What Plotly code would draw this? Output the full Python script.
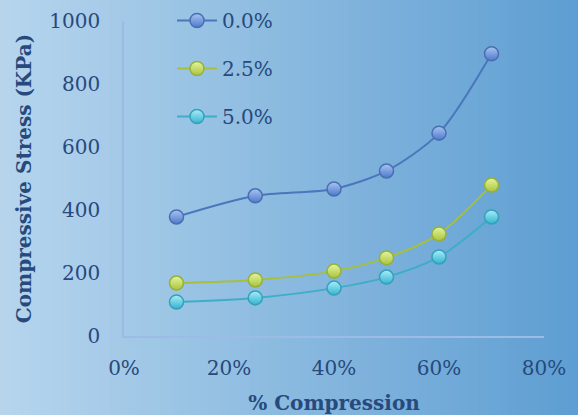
import plotly.graph_objects as go

# Compression levels (fraction) and compressive stress (KPa) per additive content
compression = [0.10, 0.25, 0.40, 0.50, 0.60, 0.70]
stress_0_0 = [378, 445, 467, 524, 644, 896]
stress_2_5 = [168, 178, 206, 248, 324, 479]
stress_5_0 = [108, 121, 152, 187, 251, 378]

series_names = ["0.0%", "2.5%", "5.0%"]
series_values = [stress_0_0, stress_2_5, stress_5_0]
line_colors = ["#4a76bb", "#a6bf3c", "#3eaec8"]
marker_top = ["#a9c4f2", "#e4f5a0", "#a8eef8"]
marker_bottom = ["#4d7acb", "#a9c43a", "#35b2cf"]
marker_edges = ["#4a6fb0", "#98b038", "#35a0bb"]

x_ticks = [0, 0.2, 0.4, 0.6, 0.8]
x_tick_text = ["0%", "20%", "40%", "60%", "80%"]
y_ticks = [0, 200, 400, 600, 800, 1000]

W, H = 578, 415
L, R, T, B = 124, 34, 21, 79
pw, ph = W - L - R, H - T - B

text_color = "#27497c"
font_family = "DejaVu Serif"

fig = go.Figure()
for name, vals, lc, mt, mb, me in zip(series_names, series_values, line_colors,
                                      marker_top, marker_bottom, marker_edges):
    fig.add_trace(go.Scatter(
        x=compression, y=vals, name=name, legendgroup=name,
        mode="lines+markers",
        line=dict(color=lc, width=2, shape="spline", smoothing=0.8),
        marker=dict(size=14, color=mt,
                    gradient=dict(type="vertical", color=mb),
                    line=dict(color=me, width=1.5)),
    ))

# Horizontal background gradient built from thin strips across the whole canvas
left_rgb = (0xb6, 0xd5, 0xed)
right_rgb = (0x5e, 0x9e, 0xd2)
n_strips = 58
shapes = []
for i in range(n_strips):
    t = i / (n_strips - 1)
    c = tuple(round(a + (b - a) * t) for a, b in zip(left_rgb, right_rgb))
    px0 = i * W / n_strips
    px1 = (i + 1) * W / n_strips + 1
    shapes.append(dict(
        type="rect", xref="paper", yref="paper", layer="below",
        x0=(px0 - L) / pw, x1=(px1 - L) / pw,
        y0=-(B + 2) / ph, y1=(H - B + 2) / ph,
        fillcolor="rgb(%d,%d,%d)" % c, line=dict(width=0),
    ))

fig.update_layout(
    width=W, height=H,
    margin=dict(l=L, r=R, t=T, b=B, autoexpand=False),
    paper_bgcolor="#8dbde3",
    plot_bgcolor="rgba(0,0,0,0)",
    shapes=shapes,
    font=dict(family=font_family, color=text_color, size=20),
    showlegend=True,
    legend=dict(
        x=(172 - L) / pw, y=(336 - 1) / ph, xanchor="left", yanchor="top",
        bgcolor="rgba(0,0,0,0)", font=dict(size=20, color=text_color),
        tracegroupgap=19, itemwidth=40,
    ),
    xaxis=dict(
        range=[0, 0.8], tickvals=x_ticks, ticktext=x_tick_text,
        showgrid=False, zeroline=False, showline=True,
        linecolor="#9cbbe6", linewidth=1.5, ticks="",
        ticklabelstandoff=13,
        title=dict(text="<b>% Compression</b>", standoff=18,
                   font=dict(size=20, family=font_family, color=text_color)),
    ),
    yaxis=dict(
        range=[0, 1000], tickvals=y_ticks,
        showgrid=False, zeroline=False, showline=True,
        linecolor="#9cbbe6", linewidth=1.5, ticks="",
        ticklabelstandoff=18,
        title=dict(text="<b>Compressive Stress (KPa)</b>", standoff=12,
                   font=dict(size=20, family=font_family, color=text_color)),
    ),
)

fig.write_html("out.html")
